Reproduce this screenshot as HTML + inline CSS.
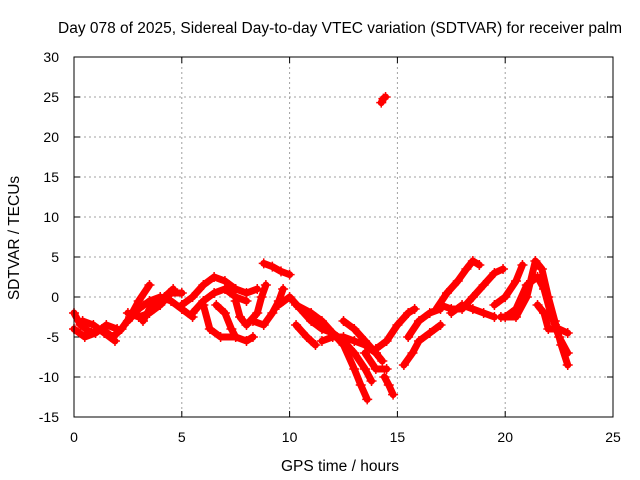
<!DOCTYPE html>
<html><head><meta charset="utf-8"><style>
body{margin:0;background:#fff;}
svg{display:block;font-family:"Liberation Sans",sans-serif;}
</style></head><body>
<svg id="chart" width="640" height="480">
<text x="340" y="33" font-size="15.5" text-anchor="middle">Day 078 of 2025, Sidereal Day-to-day VTEC variation (SDTVAR) for receiver palm</text>
<text x="340" y="471" font-size="15.5" text-anchor="middle">GPS time / hours</text>
<text transform="translate(19,238) rotate(-90)" font-size="15.5" text-anchor="middle">SDTVAR / TECUs</text>
<g id="grid"></g><g id="ticks"></g><g id="series"></g>
<rect x="74" y="57" width="539" height="360" fill="none" stroke="#000" stroke-width="1"/>
</svg>
<script>
const xTicks=[0,5,10,15,20,25];
const yTicks=[-15,-10,-5,0,5,10,15,20,25,30];
const tracks=[
[[0,-2],[0.3,-3.5],[0.8,-4.5],[1.3,-4],[1.8,-5],[2.2,-4]],
[[0,-4],[0.5,-5],[1,-4.5],[1.5,-3.5],[2,-4]],
[[0.4,-3],[0.9,-3.5],[1.4,-4.5],[1.9,-5.5]],
[[2.2,-4],[2.6,-2.5],[3,-0.5],[3.5,1.5]],
[[2.5,-3],[3,-1.5],[3.5,-0.5],[4,0],[4.5,-0.5],[5,-1.5],[5.5,-2.5]],
[[2.5,-2],[3,-2.5],[3.5,-2],[4,-1],[4.5,0.5],[5,0.5]],
[[3.2,-3],[3.6,-1],[4.2,0],[4.6,1]],
[[5,-1],[5.5,0],[6,1.5],[6.5,2.5],[7,2],[7.5,1],[8,0.5],[8.5,1]],
[[5.5,-2],[6,-0.5],[6.5,0.5],[7,1],[7.5,0],[8,-0.5]],
[[6,-1],[6.3,-4],[6.8,-5],[7.5,-5],[8,-5.5],[8.3,-5]],
[[6.6,-1],[7,-2],[7.3,-4],[7.5,-5]],
[[7.5,-0.5],[7.7,-2.5],[8,-3.5],[8.5,-2],[8.7,0],[8.9,1.5]],
[[8.8,4.2],[9.2,3.8],[9.6,3.2],[10,2.8]],
[[8.3,-3],[8.8,-3.5],[9.2,-2],[9.5,-0.5],[9.7,1]],
[[9.5,-1],[10,0],[10.5,-1.5],[11,-3],[11.5,-4],[12,-4.5],[12.5,-5.5],[13,-7],[13.5,-9],[13.8,-10.5]],
[[10.3,-1],[11,-2],[11.5,-3],[12,-4.5],[12.5,-6],[13,-9],[13.3,-11],[13.6,-12.8]],
[[11.5,-5.5],[12,-5],[12.5,-5],[13,-5.5],[13.5,-6],[14,-7]],
[[12.5,-3],[13,-4],[13.5,-5.5],[14,-7],[14.3,-8]],
[[13.5,-7],[14,-9],[14.5,-9]],
[[14.4,-10],[14.6,-11],[14.8,-12.2]],
[[10.3,-3.5],[10.8,-5],[11.2,-6]],
[[14.25,24.3],[14.35,24.8],[14.45,25]],
[[14,-6.5],[14.5,-5.5],[15,-3.5],[15.5,-2],[15.8,-1.5]],
[[15.3,-8.5],[15.7,-7],[16,-5.5],[16.5,-4.5],[17,-3.5]],
[[15.5,-5],[16,-3],[16.5,-2],[17,-1.5]],
[[16.8,-1.5],[17.3,0.5],[17.8,2],[18.2,3.5],[18.5,4.5],[18.8,4]],
[[17,-1],[17.5,-1.5],[18,-1.5],[18.5,0],[19,1.5],[19.5,3],[19.9,3.5]],
[[17.5,-2],[18,-1],[18.5,-1.5],[19,-2],[19.5,-2.5]],
[[19.8,-2.5],[20.5,-2.5],[21,0],[21.4,4.5],[21.7,3.5],[22,0],[22.3,-3],[22.6,-6],[22.9,-8.5]],
[[19.5,-1],[20,0],[20.5,2],[20.8,4]],
[[20,-2.5],[20.5,-1.5],[21,1.5],[21.5,2.5],[21.8,1],[22.1,-2],[22.5,-5],[22.9,-7]],
[[21.5,-1],[21.8,-2],[22,-4],[22.5,-4],[22.9,-4.5]]
];
const L=74,R=613,T=57,B=417,X0=0,X1=25,Y0=-15,Y1=30;
const sx=v=>L+(v-X0)/(X1-X0)*(R-L);
const sy=v=>B-(v-Y0)/(Y1-Y0)*(B-T);
const NS="http://www.w3.org/2000/svg";
const mk=(t,a,p)=>{const e=document.createElementNS(NS,t);for(const k in a)e.setAttribute(k,a[k]);p.appendChild(e);return e;};
const grid=document.getElementById('grid'),ticks=document.getElementById('ticks'),ser=document.getElementById('series');
xTicks.forEach(v=>{const x=sx(v);
 if(v>X0&&v<X1){const g=mk('line',{x1:x,x2:x,y1:T,y2:B,stroke:'#a0a0a0','stroke-dasharray':'2,3'},grid);
 
 }
 mk('line',{x1:x,x2:x,y1:B,y2:B-6,stroke:'#000'},ticks);
 mk('line',{x1:x,x2:x,y1:T,y2:T+6,stroke:'#000'},ticks);
 const t=mk('text',{x:x,y:B+25,'font-size':14,'text-anchor':'middle'},ticks);t.textContent=v;
 
 });
yTicks.forEach(v=>{const y=sy(v);
 if(v>Y0&&v<Y1){const g=mk('line',{x1:L,x2:R,y1:y,y2:y,stroke:'#a0a0a0','stroke-dasharray':'2,3'},grid);
 
 }
 mk('line',{x1:L,x2:L+6,y1:y,y2:y,stroke:'#000'},ticks);
 mk('line',{x1:R,x2:R-6,y1:y,y2:y,stroke:'#000'},ticks);
 const t=mk('text',{x:L-15,y:y+5,'font-size':14,'text-anchor':'end'},ticks);t.textContent=v;
 
 });
tracks.forEach(tr=>{
 const pl=mk('polyline',{points:tr.map(p=>sx(p[0])+','+sy(p[1])).join(' '),fill:'none',stroke:'#ff0000','stroke-width':7,'stroke-linejoin':'round','stroke-linecap':'round'},ser);
 
 
 tr.forEach(p=>{const x=sx(p[0]),y=sy(p[1]);
  const m=mk('path',{d:`M${x-5},${y}H${x+5}M${x},${y-5}V${y+5}`,stroke:'#ff0000','stroke-width':1.5},ser);
  
  });
});
</script>
</body></html>
